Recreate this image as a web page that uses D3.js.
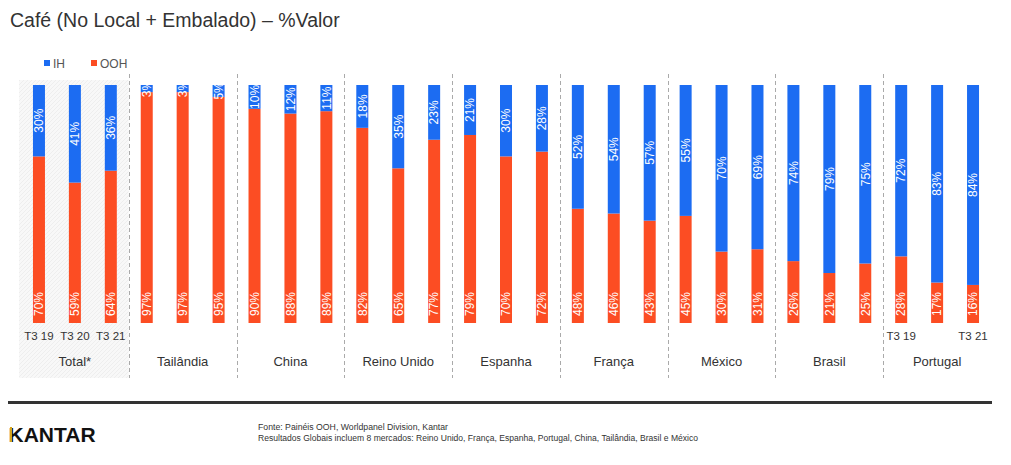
<!DOCTYPE html>
<html>
<head>
<meta charset="utf-8">
<script src="https://cdn.jsdelivr.net/npm/d3@7"></script>
<style>
  body { margin: 0; background: #fff; }
  svg { display: block; font-family: Arial, "Liberation Sans", sans-serif; }
</style>
</head>
<body>
<svg id="chart" width="1011" height="465"></svg>
<script>
// dados
var groups = ["Total*", "Tailândia", "China", "Reino Unido", "Espanha", "França", "México", "Brasil", "Portugal"];
var periods = ["T3 19", "T3 20", "T3 21"];
// rótulos de período visíveis por grupo (vazio = sem rótulo)
var periodLabels = {
  "Total*": ["T3 19", "T3 20", "T3 21"],
  "Portugal": ["T3 19", "", "T3 21"]
};
var ihValues = [
  [30, 41, 36], [3, 3, 5], [10, 12, 11], [18, 35, 23], [21, 30, 28],
  [52, 54, 57], [55, 70, 69], [74, 79, 75], [72, 83, 84]
];
var oohValues = [
  [70, 59, 64], [97, 97, 95], [90, 88, 89], [82, 65, 77], [79, 70, 72],
  [48, 46, 43], [45, 30, 31], [26, 21, 25], [28, 17, 16]
];
var seriesNames = ["OOH", "IH"];
var colors = { IH: "#1c6cf2", OOH: "#fc4d23" };

// tabela plana
var rows = [];
groups.forEach(function(g, gi){
  periods.forEach(function(p, pi){
    rows.push({ key: g + "|" + p, group: g, period: p, gi: gi, pi: pi,
                OOH: oohValues[gi][pi], IH: ihValues[gi][pi] });
  });
});

var svg = d3.select("#chart");

// titulo
svg.append("text")
  .attr("x", 10).attr("y", 27)
  .attr("font-size", 19.5).attr("fill", "#333")
  .text("Café (No Local + Embalado) – %Valor");

var x = d3.scaleBand()
  .domain(rows.map(function(d){ return d.key; }))
  .range([21, 991])
  .paddingInner(0.666)
  .paddingOuter(0.333);

var y = d3.scaleLinear().domain([0, 100]).range([323, 85]);

function cx(key){ return x(key) + x.bandwidth() / 2; }

// fundo hachurado do Total
var defs = svg.append("defs");
var pat = defs.append("pattern")
  .attr("id", "hatch").attr("patternUnits", "userSpaceOnUse")
  .attr("width", 4).attr("height", 4);
pat.append("rect").attr("width", 4).attr("height", 4).attr("fill", "#f8f8f8");
pat.append("path").attr("d", "M-1,1 l2,-2 M0,4 l4,-4 M3,5 l2,-2")
  .attr("stroke", "#ebebeb").attr("stroke-width", 0.8);

var firstOther = groups[1] + "|" + periods[0];
var lastTotal = groups[0] + "|" + periods[2];
var div0 = (cx(lastTotal) + cx(firstOther)) / 2;
svg.append("rect")
  .attr("x", 19).attr("y", 80)
  .attr("width", div0 - 19).attr("height", 298)
  .attr("fill", "url(#hatch)");

// divisórias tracejadas
var dividers = groups.slice(1).map(function(g, i){
  return (cx(groups[i] + "|" + periods[2]) + cx(g + "|" + periods[0])) / 2;
});
svg.append("g").selectAll("line")
  .data(dividers)
  .enter().append("line")
  .attr("x1", function(d){ return Math.round(d) + 0.5; })
  .attr("x2", function(d){ return Math.round(d) + 0.5; })
  .attr("y1", 74).attr("y2", 378)
  .attr("stroke", "#aaa").attr("stroke-width", 1)
  .attr("stroke-dasharray", "4,3");

// barras empilhadas
var stack = d3.stack().keys(seriesNames);
var stacked = stack(rows);

var layers = svg.append("g").selectAll("g")
  .data(stacked)
  .enter().append("g")
  .attr("fill", function(d){ return colors[d.key]; });

layers.selectAll("rect")
  .data(function(d){ return d; })
  .enter().append("rect")
  .attr("x", function(d){ return x(d.data.key); })
  .attr("y", function(d){ return y(d[1]); })
  .attr("width", x.bandwidth())
  .attr("height", function(d){ return y(d[0]) - y(d[1]); });

// rótulos de valor (verticais, brancos)
var labels = svg.append("g")
  .attr("fill", "#fff").attr("font-size", 12);

labels.selectAll("text.ooh")
  .data(stacked[0])
  .enter().append("text")
  .attr("class", "ooh")
  .attr("transform", function(d){
    return "translate(" + (cx(d.data.key) + 4.3) + "," + (y(0) - 7) + ") rotate(-90)";
  })
  .attr("text-anchor", "start")
  .text(function(d){ return d.data.OOH + "%"; });

labels.selectAll("text.ih")
  .data(stacked[1])
  .enter().append("text")
  .attr("class", "ih")
  .attr("transform", function(d){
    return "translate(" + (cx(d.data.key) + 4.3) + "," + ((y(d[0]) + y(d[1])) / 2) + ") rotate(-90)";
  })
  .attr("text-anchor", "middle")
  .text(function(d){ return d.data.IH + "%"; });

// rótulos de período
svg.append("g").selectAll("text")
  .data(rows.filter(function(d){
    return periodLabels[d.group] && periodLabels[d.group][d.pi];
  }))
  .enter().append("text")
  .attr("x", function(d){ return cx(d.key); })
  .attr("y", 340)
  .attr("text-anchor", "middle")
  .attr("font-size", 11.5).attr("fill", "#333")
  .text(function(d){ return periodLabels[d.group][d.pi]; });

// nomes dos grupos
svg.append("g").selectAll("text")
  .data(groups)
  .enter().append("text")
  .attr("x", function(g){ return cx(g + "|" + periods[1]); })
  .attr("y", 366)
  .attr("text-anchor", "middle")
  .attr("font-size", 13).attr("fill", "#333")
  .text(function(g){ return g; });

// legenda
var legend = svg.append("g").attr("font-size", 12).attr("fill", "#555");
var legendItems = [{ name: "IH", x: 44 }, { name: "OOH", x: 91 }];
legend.selectAll("rect")
  .data(legendItems)
  .enter().append("rect")
  .attr("x", function(d){ return d.x; }).attr("y", 60)
  .attr("width", 6).attr("height", 6)
  .attr("fill", function(d){ return colors[d.name]; });
legend.selectAll("text")
  .data(legendItems)
  .enter().append("text")
  .attr("x", function(d){ return d.x + 9; }).attr("y", 67.5)
  .text(function(d){ return d.name; });

// rodapé
svg.append("line")
  .attr("x1", 8).attr("x2", 992)
  .attr("y1", 402.5).attr("y2", 402.5)
  .attr("stroke", "#333").attr("stroke-width", 3);

svg.append("text")
  .attr("x", 8.5).attr("y", 442)
  .attr("font-size", 21).attr("font-weight", "bold").attr("fill", "#111")
  .text("KANTAR");
svg.append("rect")
  .attr("x", 10).attr("y", 427).attr("width", 2).attr("height", 15)
  .attr("fill", "#d6a51c");

var foot = svg.append("g").attr("font-size", 8.5).attr("fill", "#333");
foot.append("text").attr("x", 258).attr("y", 430)
  .attr("textLength", 190).attr("lengthAdjust", "spacingAndGlyphs")
  .text("Fonte: Painéis OOH, Worldpanel Division, Kantar");
foot.append("text").attr("x", 258).attr("y", 441)
  .attr("textLength", 440).attr("lengthAdjust", "spacingAndGlyphs")
  .text("Resultados Globais incluem 8 mercados: Reino Unido, França, Espanha, Portugal, China, Tailândia, Brasil e México");
</script>
</body>
</html>
